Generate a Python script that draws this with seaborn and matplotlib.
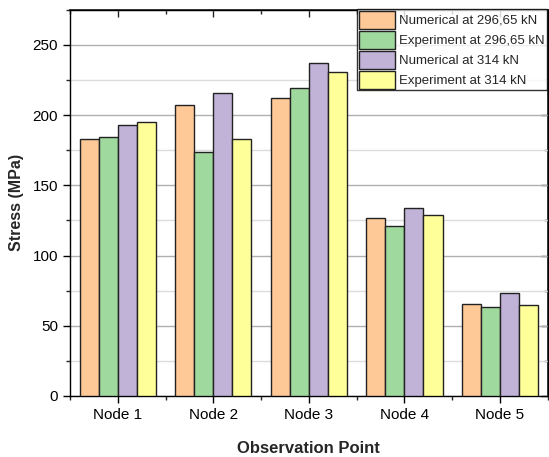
import pandas as pd
import matplotlib
matplotlib.use("Agg")
import matplotlib.pyplot as plt
import seaborn as sns
from matplotlib.ticker import MultipleLocator

# data
nodes = ['Node 1', 'Node 2', 'Node 3', 'Node 4', 'Node 5']
series = ['Numerical at 296,65 kN', 'Experiment at 296,65 kN',
          'Numerical at 314 kN', 'Experiment at 314 kN']
num_296 = [183, 207, 212, 127, 65.6]
exp_296 = [184.5, 174, 219, 121.2, 63.4]
num_314 = [193, 215.5, 237, 134, 73]
exp_314 = [194.8, 182.8, 231, 128.8, 64.8]

colors = ['#FEC897', '#A0D99E', '#C1B2D8', '#FFFF99']

rows = []
for name, vals in zip(series, [num_296, exp_296, num_314, exp_314]):
    for n, v in zip(nodes, vals):
        rows.append({'Node': n, 'Series': name, 'Stress': v})
df = pd.DataFrame(rows)

sns.set_theme(style="white")
plt.rcParams['font.family'] = ['Liberation Sans', 'DejaVu Sans']

fig = plt.figure(figsize=(5.49, 4.57), dpi=100)
ax = fig.add_axes([0.1275, 0.1335, 0.870, 0.845])

sns.barplot(data=df, x='Node', y='Stress', hue='Series', hue_order=series,
            palette=colors, width=0.8, edgecolor='#222222', linewidth=1.0,
            saturation=1, ax=ax, zorder=3)

ax.set_ylim(0, 275)
ax.set_xlim(-0.5, 4.5)
ax.yaxis.set_major_locator(MultipleLocator(50))
ax.yaxis.set_minor_locator(MultipleLocator(25))
ax.set_xticks(range(5))
ax.set_xticks([i + 0.5 for i in range(-1, 5)], minor=True)

ax.grid(True, which='major', axis='y', color='#b0b0b0', linewidth=1.0, zorder=0)
ax.grid(True, which='minor', axis='y', color='#dcdcdc', linewidth=1.0, zorder=0)
ax.set_axisbelow(True)

for s in ax.spines.values():
    s.set_visible(True)
    s.set_color('black')
    s.set_linewidth(1.0)

# left / bottom ticks point out
ax.tick_params(axis='both', which='major', direction='out', length=5, width=1,
               labelsize=11, colors='black', bottom=True, left=True)
ax.tick_params(axis='both', which='minor', direction='out', length=3, width=1,
               bottom=True, left=True)

# top / right ticks point in, no labels
top = ax.secondary_xaxis('top')
top.set_xticks(range(5))
top.set_xticks([i + 0.5 for i in range(-1, 5)], minor=True)
top.tick_params(which='major', direction='in', length=5, width=1, labeltop=False)
top.tick_params(which='minor', direction='in', length=3, width=1)
right = ax.secondary_yaxis('right')
right.yaxis.set_major_locator(MultipleLocator(50))
right.yaxis.set_minor_locator(MultipleLocator(25))
right.tick_params(which='major', direction='in', length=5, width=1, labelright=False)
right.tick_params(which='minor', direction='in', length=3, width=1)

ax.set_xlabel('Observation Point', fontsize=12, fontweight='bold', labelpad=14)
ax.set_ylabel('Stress (MPa)', fontsize=11.5, fontweight='bold', labelpad=6)

leg = ax.legend(loc='upper left', bbox_to_anchor=((357 - 70) / 478, 1.003),
                fontsize=9.5, frameon=True, fancybox=False, edgecolor='black',
                borderpad=0.15, labelspacing=0.15, handlelength=2.75,
                handleheight=1.72, handletextpad=0.3, borderaxespad=0)
leg.get_frame().set_linewidth(1.0)
leg.set_zorder(10)

fig.savefig('out.png', dpi=100)
